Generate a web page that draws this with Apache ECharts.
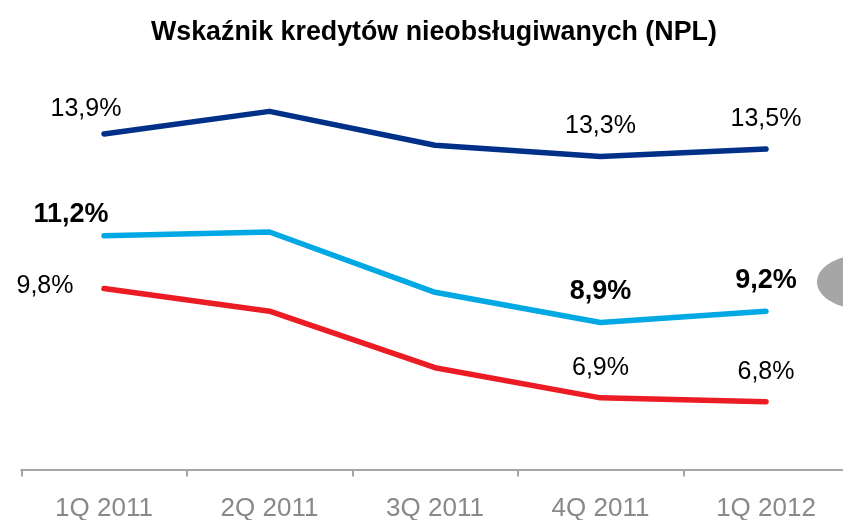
<!DOCTYPE html>
<html>
<head>
<meta charset="utf-8">
<script src="https://cdn.jsdelivr.net/npm/echarts@6/dist/echarts.min.js"></script>
<style>
  html, body { margin: 0; padding: 0; background: #fff; }
  #chart { width: 843px; height: 520px; }
</style>
</head>
<body>
<div id="chart"></div>
<script>
const categories = ["1Q 2011", "2Q 2011", "3Q 2011", "4Q 2011", "1Q 2012"];
const navyValues = [13.9, 14.5, 13.6, 13.3, 13.5];
const blueValues = [11.2, 11.3, 9.7, 8.9, 9.2];
const redValues = [9.8, 9.2, 7.7, 6.9, 6.8];
// which points carry a value label
const labelled = [0, 3, 4];

const FONT = "Liberation Sans, Arial, sans-serif";
const fmt = (p) => p.value.toFixed(1).replace(".", ",") + "%";

// label nudges for the first point of each line
const firstOffsets = {
  navy: [-18, 5],
  blue: [-33, 10],
  red: [-59, 28],
};

function buildData(values, key) {
  return values.map((v, i) => {
    if (labelled.indexOf(i) < 0) return v;
    return {
      value: v,
      label: { show: true, offset: i === 0 ? firstOffsets[key] : [0, 0] },
    };
  });
}

function lineSeries(name, values, key, color, bold) {
  return {
    name: name,
    type: "line",
    data: buildData(values, key),
    symbol: "circle",
    symbolSize: 1,
    itemStyle: { color: color },
    lineStyle: { color: color, width: 5.5, cap: "round", join: "round" },
    label: {
      show: false,
      position: "top",
      distance: 17,
      formatter: fmt,
      color: "#000",
      fontFamily: FONT,
      fontSize: bold ? 27 : 25,
      fontWeight: bold ? "bold" : "normal",
    },
    emphasis: { disabled: true },
    animation: false,
  };
}

const myChart = echarts.init(document.getElementById("chart"));
const options = {
  backgroundColor: "#fff",
  title: {
    text: "Wskaźnik kredytów nieobsługiwanych (NPL)",
    left: 146,
    top: 14,
    textStyle: { fontFamily: FONT, fontSize: 26.8, fontWeight: "bold", color: "#000" },
  },
  grid: { left: 21.25, width: 827.5, top: 92.5, bottom: 50.5, outerBoundsMode: "none", containLabel: false },
  xAxis: {
    type: "category",
    data: categories,
    boundaryGap: true,
    axisLine: { lineStyle: { color: "#a6a6a6", width: 2 } },
    axisTick: { show: true, length: 7, lineStyle: { color: "#a6a6a6", width: 2 } },
    axisLabel: { color: "#898989", fontFamily: FONT, fontSize: 26, margin: 26 },
  },
  yAxis: {
    type: "value",
    min: 5,
    max: 15,
    show: false,
    splitLine: { show: false },
  },
  graphic: [
    {
      type: "ellipse",
      shape: { cx: 862, cy: 282, rx: 45, ry: 27 },
      style: { fill: "#a6a6a6" },
      z: 0,
    },
  ],
  series: [
    lineSeries("navy", navyValues, "navy", "#003087", false),
    lineSeries("blue", blueValues, "blue", "#00a8e4", true),
    lineSeries("red", redValues, "red", "#ec1c24", false),
  ],
};
myChart.setOption(options);
</script>
</body>
</html>
